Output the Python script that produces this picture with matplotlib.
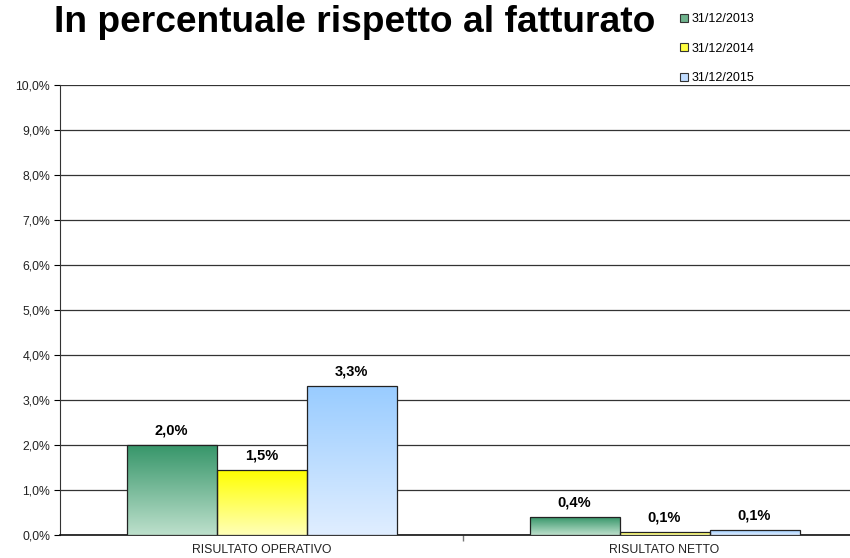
import numpy as np
import matplotlib
matplotlib.use('Agg')
import matplotlib.pyplot as plt
from matplotlib.colors import LinearSegmentedColormap
from matplotlib.patches import Patch

plt.rcParams['font.family'] = ['Liberation Sans', 'DejaVu Sans']

# Data
categories = ['RISULTATO OPERATIVO', 'RISULTATO NETTO']
series = ['31/12/2013', '31/12/2014', '31/12/2015']
values = [
    [2.0, 0.4],
    [1.44, 0.07],
    [3.31, 0.11],
]
labels = [
    ['2,0%', '0,4%'],
    ['1,5%', '0,1%'],
    ['3,3%', '0,1%'],
]
# (top colour, bottom colour) for each series gradient
grad_colors = [('#37966a', '#bde0cc'), ('#ffff00', '#ffffb8'), ('#99ccff', '#e0eeff')]
legend_colors = ['#6fb38d', '#ffff40', '#c0dcff']

fig = plt.figure(figsize=(8.5, 5.58), dpi=100)
# axes spans pixels x 60..866, y 85..535 (runs past the right edge like the original)
ax = fig.add_axes([60 / 850, (558 - 535) / 558, 806 / 850, 450 / 558])

bar_w = 90 / 403
x_centers = np.arange(len(categories)) + 0.5

for i, s in enumerate(series):
    cmap = LinearSegmentedColormap.from_list('g%d' % i, [grad_colors[i][1], grad_colors[i][0]])
    for j, c in enumerate(categories):
        x0 = x_centers[j] + (i - 1.5) * bar_w
        h = values[i][j]
        bar = ax.bar(x0, h, width=bar_w, align='edge', facecolor='none',
                     edgecolor='#222222', linewidth=0.9, zorder=4)[0]
        grad = np.linspace(0, 1, 256).reshape(-1, 1)
        im = ax.imshow(grad, cmap=cmap, origin='lower', aspect='auto',
                       extent=[x0, x0 + bar_w, 0, h], zorder=3)
        im.set_clip_path(bar)
        ax.text(x0 + bar_w / 2, h + 0.17, labels[i][j], ha='center', va='bottom',
                fontsize=10.5, fontweight='bold')

ax.set_xlim(0, 2)
ax.set_ylim(0, 10)

ax.set_yticks(np.arange(0, 11, 1))
ax.set_yticklabels(['%d,0%%' % v for v in range(11)], fontsize=8.8, color='#222222')
ax.yaxis.grid(True, color='#333333', linewidth=0.9)
ax.set_axisbelow(True)

ax.set_xticks([1])
ax.set_xticklabels([''])
ax.tick_params(axis='x', length=4, color='#777777', width=1)
ax.tick_params(axis='y', length=4, width=0.8, pad=3)
for j, c in enumerate(categories):
    ax.text(x_centers[j], -0.2, c, ha='center', va='top', fontsize=8.8,
            color='#222222')

for side in ['top', 'right']:
    ax.spines[side].set_visible(False)
ax.spines['left'].set_color('#333333')
ax.spines['bottom'].set_color('#111111')
ax.spines['bottom'].set_linewidth(1.2)

fig.text(355 / 850, 1 - 22 / 558, 'In percentuale rispetto al fatturato',
         ha='center', va='center', fontsize=26.7, fontweight='bold')

handles = [Patch(facecolor=legend_colors[i], edgecolor='#333333', linewidth=0.8) for i in range(3)]
leg = fig.legend(handles, series, loc='upper left', bbox_to_anchor=(674 / 850, 1 - 7 / 558),
                 frameon=False, fontsize=9, handlelength=0.6, handleheight=0.6,
                 handletextpad=0.3, labelspacing=1.4, borderpad=0)

fig.savefig('out.png', dpi=100)
